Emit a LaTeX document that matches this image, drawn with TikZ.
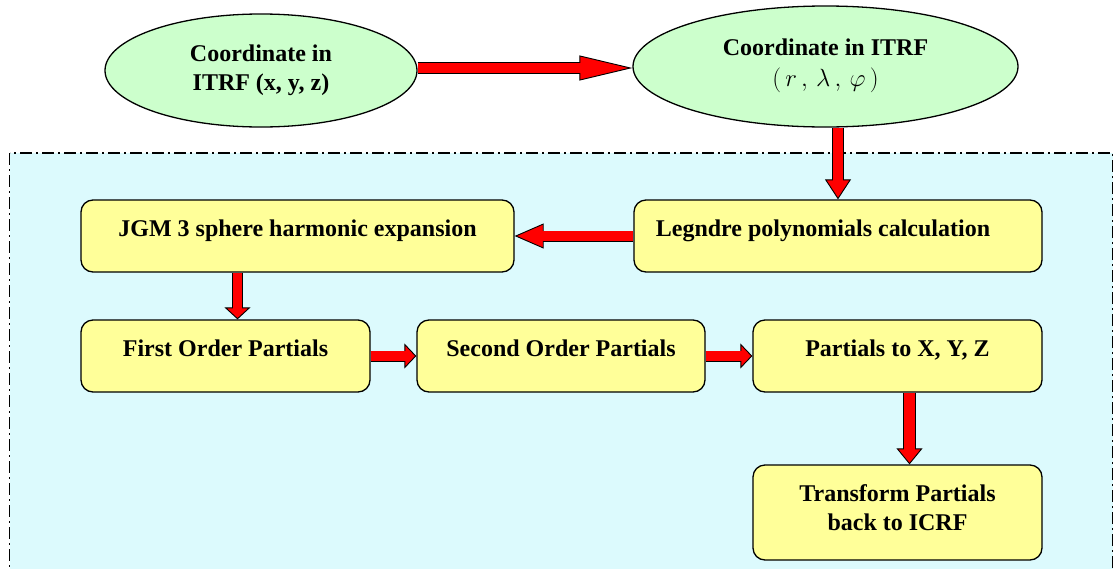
\documentclass[tikz,border=0pt]{standalone}
\usepackage{fontspec}
\setmainfont{Liberation Serif}
\usetikzlibrary{arrows.meta,shapes.geometric}
\definecolor{ellfill}{RGB}{204,255,204}
\definecolor{boxfill}{RGB}{255,255,153}
\definecolor{bgfill}{RGB}{220,250,253}
\definecolor{arrred}{RGB}{255,0,0}
\begin{document}
\begin{tikzpicture}[x=1pt,y=-1pt,
  every node/.style={font=\fontsize{24}{29}\selectfont\bfseries},
  oval/.style={ellipse, draw=black, line width=1.3pt, fill=ellfill, inner sep=0pt},
  stepbox/.style={rectangle, rounded corners=12pt, draw=black, line width=1.3pt, fill=boxfill, inner sep=0pt},
  oneline/.style={text height=17pt, text depth=17pt},
  region/.style={draw=black, line width=1.6pt, fill=bgfill, dash pattern=on 12pt off 4pt on 2pt off 4pt},
  fat/.style n args={5}{draw=black, line width=#1,
    -{Triangle[length=#2,width=#3,line width=0.9pt,fill=arrred]},
    postaction={draw=arrred, line width=#4, -, shorten >=#5}}
]
\useasboundingbox (0,0) rectangle (1114,568);
\clip (0,0) rectangle (1114,568);

% shaded region
\draw[region] (9.5,153) rectangle (1112.5,590);

% nodes
\node[oval, minimum width=312pt, minimum height=113pt, text height=45pt, text depth=6pt] (e1) at (261,70.5)
  {\begin{tabular}[b]{@{}c@{}}Coordinate in\\ITRF (x, y, z)\end{tabular}};
\node[oval, minimum width=385pt, minimum height=121pt, text height=45pt, text depth=6pt] (e2) at (825.5,66.5)
  {\begin{tabular}[b]{@{}c@{}}Coordinate in ITRF\\[2pt]\mdseries$(\,r\,,\,\lambda\,,\,\varphi\,)$\end{tabular}};

\node[stepbox, oneline, minimum width=433pt, minimum height=72pt] (jgm) at (297.5,236) {JGM 3 sphere harmonic expansion};
\node[stepbox, oneline, minimum width=408pt, minimum height=72pt] (leg) at (838,236) {Legndre polynomials calculation\hspace*{30pt}};
\node[stepbox, oneline, minimum width=289pt, minimum height=72pt] (first) at (225.5,356) {First Order Partials};
\node[stepbox, oneline, minimum width=288pt, minimum height=72pt] (second) at (561,356) {Second Order Partials};
\node[stepbox, oneline, minimum width=289pt, minimum height=72pt] (part) at (897.5,356) {Partials to X, Y, Z};
\node[stepbox, minimum width=289pt, minimum height=95pt, text height=45pt, text depth=10pt] (tr) at (897.5,512.5)
  {\begin{tabular}[b]{@{}c@{}}Transform Partials\\back to ICRF\end{tabular}};

% connectors
\coordinate (a1) at ([yshift=2.5pt]e1.east);
\draw[fat={12pt}{53pt}{25pt}{10.2pt}{51pt}] (a1) -- (a1 -| e2.west);
\draw[fat={12pt}{20pt}{26pt}{10.2pt}{18.5pt}] (e2.south -| leg.north) -- (leg.north);
\draw[fat={11pt}{29pt}{25pt}{9.2pt}{27.5pt}] (leg.west) -- (jgm.east);
\coordinate (a4) at ([xshift=12pt]first.north);
\draw[fat={11pt}{12pt}{26pt}{9.2pt}{10.5pt}] (a4 |- jgm.south) -- (a4);
\draw[fat={11pt}{12pt}{25pt}{9.2pt}{10.5pt}] (first.east) -- (second.west);
\draw[fat={11pt}{12pt}{25pt}{9.2pt}{10.5pt}] (second.east) -- (part.west);
\coordinate (a7) at ([xshift=12pt]tr.north);
\draw[fat={13pt}{16pt}{26pt}{11.2pt}{14.5pt}] (a7 |- part.south) -- (a7);
\end{tikzpicture}
\end{document}
